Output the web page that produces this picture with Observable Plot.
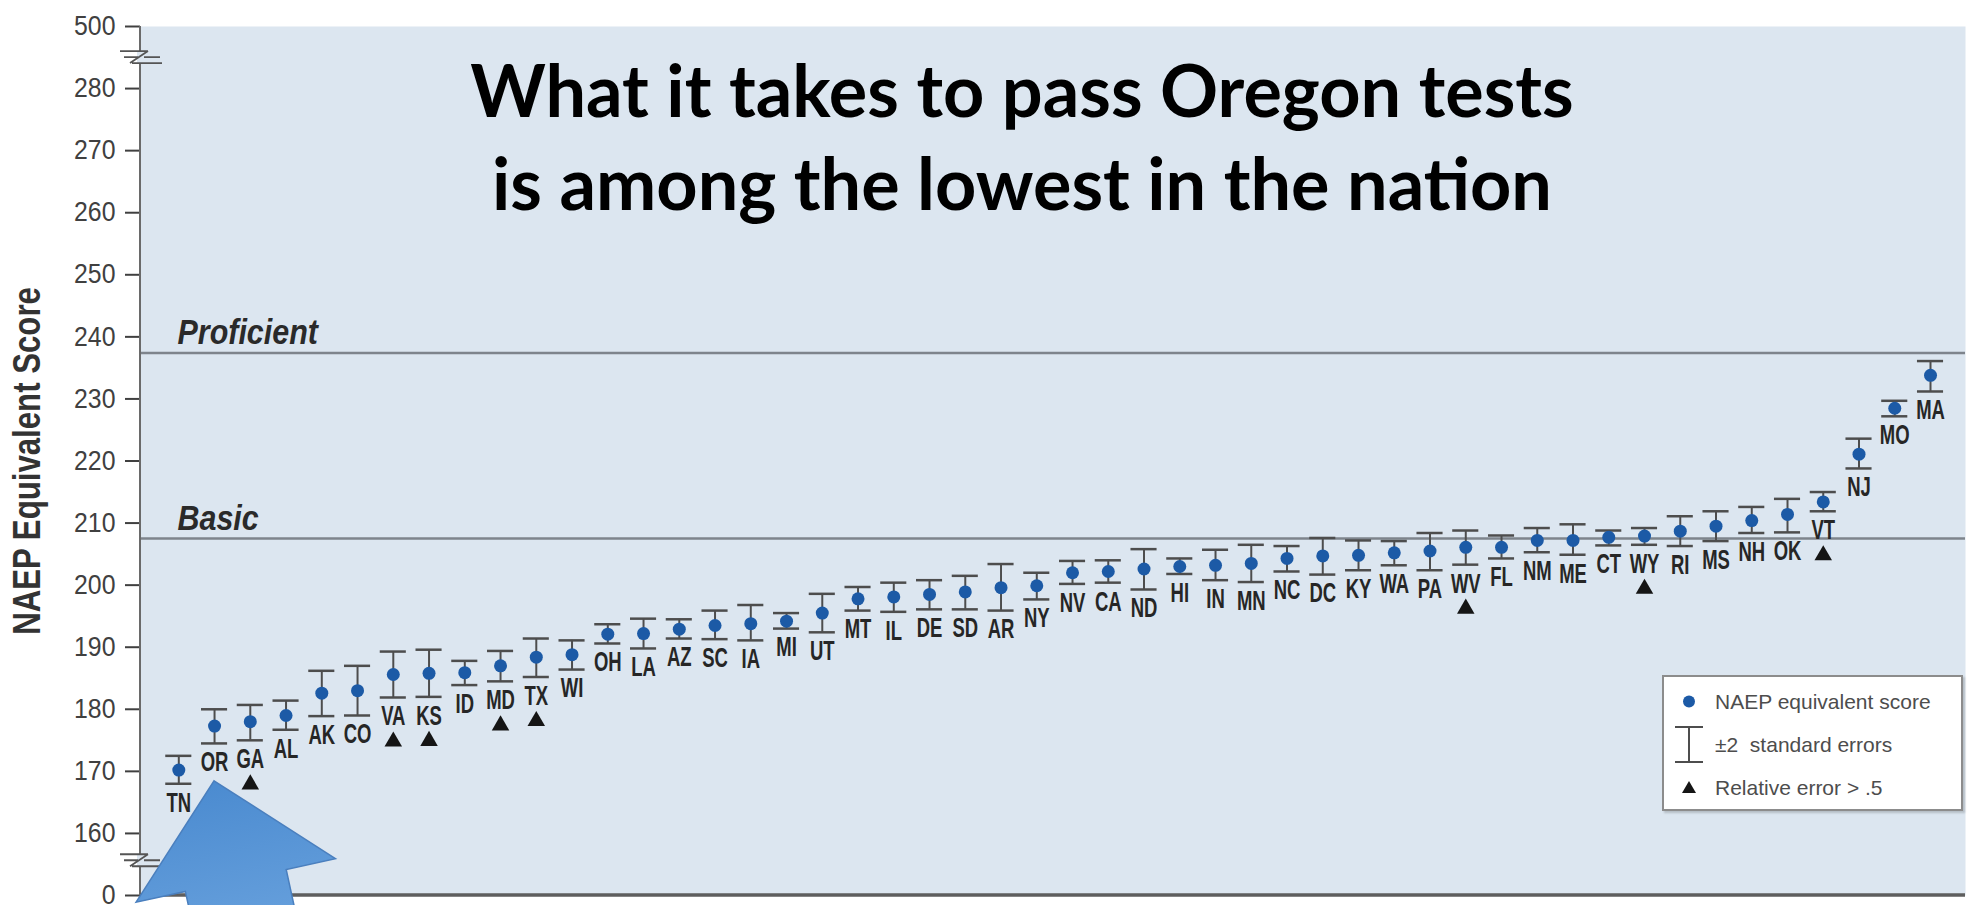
<!DOCTYPE html>
<html><head><meta charset="utf-8">
<script src="https://cdn.jsdelivr.net/npm/d3@7"></script>
<script src="https://cdn.jsdelivr.net/npm/@observablehq/plot@0.6"></script>
<style>
html,body{margin:0;padding:0;background:#fff;}
#wrap{position:relative;width:1970px;height:905px;overflow:hidden;}
#wrap > svg{display:block;}
.legend{position:absolute;left:1662px;top:675px;width:297px;height:129px;padding-top:3px;border:2px solid #8c8c8c;background:#fff;font-family:"Liberation Sans",Arial,sans-serif;font-size:21px;color:#4d4d4d;box-shadow:2px 2px 2px rgba(0,0,0,.18);}
.legend .row{display:flex;align-items:center;height:43px;white-space:pre;}
.legend .row svg{flex:none;display:block;margin-right:1px;}
</style></head>
<body><div id="wrap"></div>
<script>
// ---------- data ----------
const states = ["TN","OR","GA","AL","AK","CO","VA","KS","ID","MD","TX","WI","OH","LA","AZ","SC","IA","MI","UT","MT","IL","DE","SD","AR","NY","NV","CA","ND","HI","IN","MN","NC","DC","KY","WA","PA","WV","FL","NM","ME","CT","WY","RI","MS","NH","OK","VT","NJ","MO","MA"];
const scores = [170.2,177.3,178.0,179.0,182.6,183.0,185.6,185.8,185.9,187.0,188.4,188.8,192.1,192.2,192.9,193.5,193.8,194.2,195.5,197.8,198.1,198.5,198.9,199.6,199.9,202.0,202.2,202.6,203.0,203.2,203.5,204.3,204.7,204.8,205.2,205.5,206.1,206.1,207.2,207.2,207.7,207.9,208.7,209.5,210.4,211.4,213.4,221.1,228.5,233.8];
const lowerBounds = [168.0,174.5,175.0,176.7,178.9,179.0,181.9,182.0,183.9,184.5,185.2,186.4,190.6,189.8,191.4,191.3,191.1,193.0,192.4,195.9,195.7,196.1,196.1,195.9,197.7,200.2,200.4,199.3,201.8,200.8,200.5,202.2,201.7,202.4,203.2,202.4,203.3,204.3,205.3,204.9,206.4,206.5,206.3,207.1,208.4,208.5,211.9,218.8,227.2,231.2];
const upperBounds = [172.5,180.0,180.7,181.4,186.2,187.0,189.3,189.6,187.8,189.4,191.4,191.1,193.7,194.6,194.5,195.9,196.8,195.5,198.6,199.7,200.4,200.8,201.5,203.4,202.0,203.9,204.0,205.8,204.3,205.7,206.5,206.3,207.6,207.2,207.1,208.4,208.8,208.0,209.2,209.8,208.8,209.2,211.1,211.9,212.6,213.9,215.0,223.6,229.7,236.1];
const flaggedStates = ["GA","VA","KS","MD","TX","WV","WY","VT"];
const levelNames = ["Proficient","Basic"];
const levelValues = [237.4,207.5];
const yTickValues = [150,160,170,180,190,200,210,220,230,240,250,260,270,280,290];
const yTickLabels = ["0","160","170","180","190","200","210","220","230","240","250","260","270","280","500"];
const axisBreakValues = [285,155.6];
const titleLines = ["What it takes to pass Oregon tests","is among the lowest in the nation"];
const yLabel = "NAEP Equivalent Score";
const legendItems = ["NAEP equivalent score","±2  standard errors","Relative error > .5"];
const arrowTargetState = "OR";
const arrowTargetValue = 168.4;

// ---------- styles ----------
const bgColor = "#dce6f0";
const dotColor = "#1c5aa6";
const barColor = "#4d4d4d";

const data = states.map((s,i)=>({state:s, score:scores[i], lo:lowerBounds[i], hi:upperBounds[i]}));
const flagged = data.filter(d=>flaggedStates.includes(d.state));
const levels = levelNames.map((n,i)=>({name:n, value:levelValues[i]}));

function axisDecor(index, scales, values, dims){
  const {marginLeft, marginRight, marginTop, marginBottom, width, height} = dims;
  const y = scales.y;
  const g = d3.create("svg:g");
  g.append("line").attr("x1",marginLeft).attr("x2",marginLeft)
    .attr("y1",marginTop).attr("y2",height-marginBottom)
    .attr("stroke","#6a6a6a").attr("stroke-width",2);
  const yb = y(yTickValues[0]);
  g.append("line").attr("x1",marginLeft).attr("x2",width-marginRight)
    .attr("y1",yb).attr("y2",yb).attr("stroke","#5e5e5e").attr("stroke-width",3.5);
  for (const v of axisBreakValues){
    const yy = y(v);
    const b = g.append("g").attr("transform",`translate(${marginLeft},${yy})`);
    b.append("rect").attr("x",-3).attr("y",-6).attr("width",6).attr("height",12).attr("fill",bgColor);
    b.append("path").attr("d","M-20,-6H8M-16,0H-2M4,0H20M-8,6H22M-10,6L8,-6")
      .attr("fill","none").attr("stroke","#555").attr("stroke-width",1.8);
  }
  return g.node();
}

function arrowMark(index, scales, values, dims){
  const x0 = scales.x(arrowTargetState) + scales.x.bandwidth()/2;
  const y0 = scales.y(arrowTargetValue);
  const g = d3.create("svg:g");
  const grad = g.append("defs").append("linearGradient").attr("id","arrowFill")
    .attr("x1",0).attr("y1",0).attr("x2",0).attr("y2",1);
  grad.append("stop").attr("offset","0%").attr("stop-color","#4b8bd0");
  grad.append("stop").attr("offset","100%").attr("stop-color","#85b7ea");
  g.append("path")
    .attr("transform",`translate(${x0},${y0}) rotate(-12.3)`)
    .attr("d","M0,0L102,102L51.6,102L51.6,330L-51.6,330L-51.6,102L-102,102Z")
    .attr("fill","url(#arrowFill)").attr("stroke","#4a7fbe").attr("stroke-width",1.5);
  return g.node();
}

const plot = Plot.plot({
  width:1970, height:905,
  marginLeft:140, marginRight:5, marginTop:26, marginBottom:10,
  style:{fontFamily:'"Liberation Sans", Arial, sans-serif', background:"#fff"},
  x:{type:"band", domain:states, paddingInner:0.27, paddingOuter:0.66, align:0.535, round:false, axis:null},
  y:{domain:[150,290]},
  marks:[
    Plot.frame({fill:bgColor, stroke:null}),
    Plot.ruleY(levels, {y:"value", stroke:"#7e848c", strokeWidth:2.5}),
    Plot.text(levels, {y:"value", text:"name", frameAnchor:"left", dx:37, dy:-9, textAnchor:"start", lineAnchor:"bottom",
      fontSize:35, fontWeight:"bold", fontStyle:"italic", fill:"#2a2a2a", ariaDescription:"level label"}),
    Plot.ruleX(data, {x:"state", y1:"lo", y2:"hi", stroke:barColor, strokeWidth:2}),
    Plot.tickY(data, {x:"state", y:"lo", stroke:barColor, strokeWidth:2.5}),
    Plot.tickY(data, {x:"state", y:"hi", stroke:barColor, strokeWidth:2.5}),
    Plot.dot(data, {x:"state", y:"score", r:6.5, fill:dotColor, stroke:null}),
    Plot.text(data, {x:"state", y:"lo", text:"state", lineAnchor:"top", dy:8, fontSize:28, fontWeight:"bold",
      fill:"#262626", ariaDescription:"state label"}),
    Plot.dot(flagged, {x:"state", y:"lo", dy:44, symbol:"triangle", r:6.5, fill:"#151515", stroke:null}),
    Plot.axisY({ticks:yTickValues, tickFormat:d=>yTickLabels[yTickValues.indexOf(d)], tickSize:15, tickPadding:10,
      fontSize:27, label:null, color:"#404040", strokeWidth:2, ariaDescription:"y tick"}),
    axisDecor,
    Plot.text([titleLines.join("\n")], {text:d=>d, frameAnchor:"top", dx:-31, dy:25, lineAnchor:"top", lineHeight:1.29,
      fontSize:72, fontWeight:"bold", fontFamily:"Lato, 'Open Sans', sans-serif", fill:"#000", ariaDescription:"title"}),
    Plot.text([yLabel], {text:d=>d, frameAnchor:"left", dx:-113, rotate:-90, textAnchor:"middle", lineAnchor:"middle",
      fontSize:39, fontWeight:"bold", fill:"#333", ariaDescription:"y label"}),
    arrowMark
  ]
});

function condense(svg, sel, s){
  svg.querySelectorAll(sel).forEach(t=>{
    let tr = t.getAttribute("transform") || "";
    if (!/translate/.test(tr)){
      const x = +(t.getAttribute("x")||0), y = +(t.getAttribute("y")||0);
      t.removeAttribute("x"); t.removeAttribute("y");
      tr = `translate(${x},${y}) ` + tr;
    }
    t.setAttribute("transform", tr + ` scale(${s},1)`);
  });
}
condense(plot, 'g[aria-description="state label"] text', 0.66);
condense(plot, 'g[aria-description="level label"] text', 0.87);
condense(plot, 'g[aria-description="y label"] text', 0.8);
condense(plot, 'g[aria-label="y-axis tick label"] text', 0.92);

const wrap = document.getElementById("wrap");
wrap.appendChild(plot);

// legend (inside the plot area, bottom right)
const legend = document.createElement("div");
legend.className = "legend";
const symbols = [
  `<circle cx="25" cy="21.5" r="6" fill="${dotColor}"/>`,
  `<path d="M25,4V39M11,4H39M11,39H39" stroke="${barColor}" stroke-width="2" fill="none"/>`,
  `<path d="M18,27H32L25,15Z" fill="#151515"/>`
];
legendItems.forEach((txt,i)=>{
  const row = document.createElement("div");
  row.className = "row";
  row.innerHTML = `<svg width="50" height="43">${symbols[i]}</svg><span></span>`;
  row.querySelector("span").textContent = txt;
  legend.appendChild(row);
});
wrap.appendChild(legend);
</script>
</body></html>
